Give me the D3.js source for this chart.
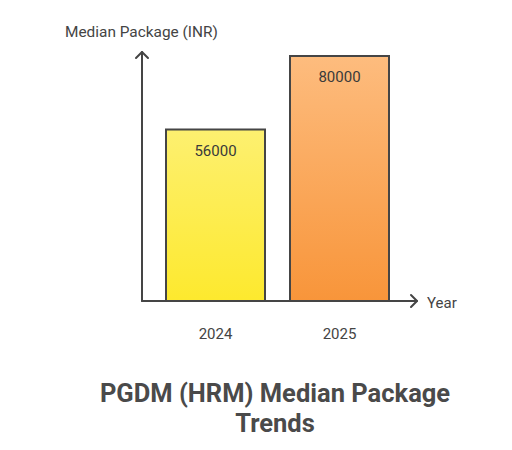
<!DOCTYPE html>
<html><head><meta charset="utf-8">
<script src="https://cdn.jsdelivr.net/npm/d3@7"></script>
<style>body{margin:0;background:#fff;font-family:Roboto,sans-serif}</style>
</head><body><svg id="c" width="512" height="450"></svg>
<script>
const categories = ["2024", "2025"];
const values = [56000, 80000];
const labels = ["56000", "80000"];
const gradTop = ["#fdf070", "#fdbc7e"];
const gradBottom = ["#fde92e", "#f8953a"];

const svg = d3.select("#c");
const x0 = 142, base = 301;
const x = d3.scaleBand().domain(categories).range([166, 389]).paddingInner(25 / 124).paddingOuter(0);
const y = d3.scaleLinear().domain([0, 80000]).range([base, 56]);

const defs = svg.append("defs");
categories.forEach((c, i) => {
  const g = defs.append("linearGradient").attr("id", "g" + i).attr("x1", 0).attr("y1", 0).attr("x2", 0).attr("y2", 1);
  g.append("stop").attr("offset", "0%").attr("stop-color", gradTop[i]);
  g.append("stop").attr("offset", "100%").attr("stop-color", gradBottom[i]);
});

svg.selectAll("rect.bar").data(values).join("rect")
  .attr("class", "bar")
  .attr("x", (d, i) => x(categories[i]))
  .attr("y", d => y(d))
  .attr("width", x.bandwidth())
  .attr("height", d => base - y(d))
  .attr("fill", (d, i) => `url(#g${i})`)
  .attr("stroke", "#454545").attr("stroke-width", 2);

svg.selectAll("text.val").data(values).join("text")
  .attr("x", (d, i) => x(categories[i]) + x.bandwidth() / 2)
  .attr("y", d => y(d) + 26)
  .attr("text-anchor", "middle").attr("font-size", 15).attr("fill", "#3a3a3a")
  .text((d, i) => labels[i]);

// axes
const ax = svg.append("g").attr("stroke", "#454545").attr("stroke-width", 2).attr("fill", "none").attr("stroke-linecap", "round").attr("stroke-linejoin", "round");
ax.append("path").attr("d", `M${x0},${base}V52`);
ax.append("path").attr("d", `M${x0 - 6},${58}L${x0},52L${x0 + 6},58`);
ax.append("path").attr("d", `M${x0},${base}H417`);
ax.append("path").attr("d", `M411,${base - 6}L417,${base}L411,${base + 6}`);

svg.selectAll("text.cat").data(categories).join("text")
  .attr("x", d => x(d) + x.bandwidth() / 2)
  .attr("y", 339)
  .attr("text-anchor", "middle").attr("font-size", 15).attr("fill", "#444")
  .text(d => d);

svg.append("text").attr("x", 427).attr("y", 308).attr("font-size", 15).attr("fill", "#444").text("Year");
svg.append("text").attr("x", 65).attr("y", 37).attr("font-size", 15.4).attr("fill", "#444").text("Median Package (INR)");

const t = svg.append("text").attr("text-anchor", "middle").attr("font-size", 25.5).attr("font-weight", "bold").attr("fill", "#4a4a4a");
t.append("tspan").attr("x", 275).attr("y", 402).text("PGDM (HRM) Median Package");
t.append("tspan").attr("x", 275).attr("y", 432).text("Trends");
</script></body></html>
